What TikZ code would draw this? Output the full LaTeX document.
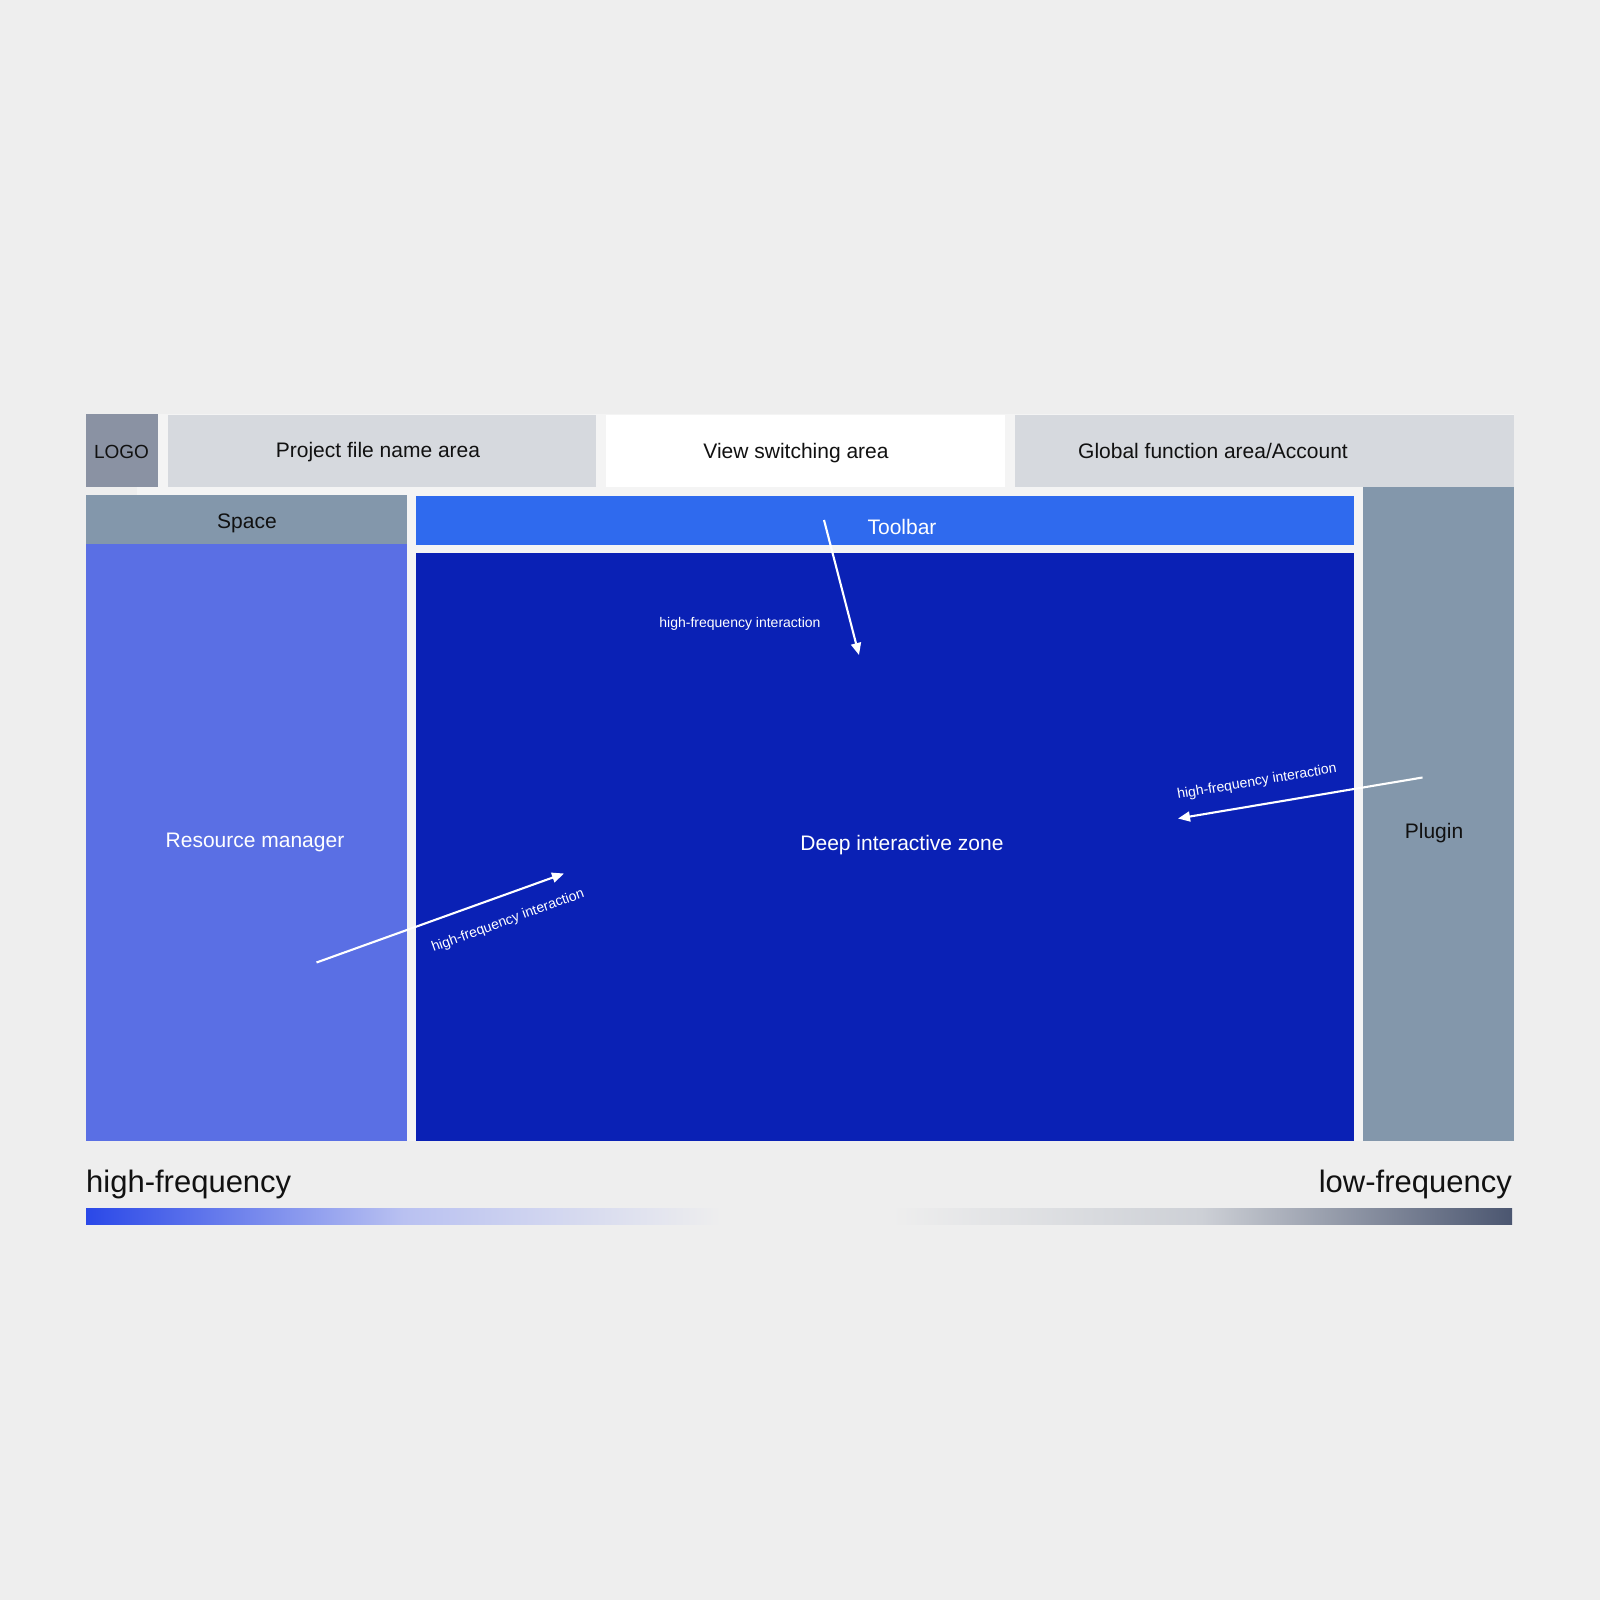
\documentclass[tikz,border=0pt]{standalone}
\usepackage{fontspec}
\setmainfont{Liberation Sans}
\usetikzlibrary{arrows.meta}
\definecolor{bg}{HTML}{EEEEEE}
\definecolor{panel}{HTML}{F4F4F4}
\definecolor{logoc}{HTML}{8A92A3}
\definecolor{lightbox}{HTML}{D6D9DE}
\definecolor{slate}{HTML}{8397AB}
\definecolor{resc}{HTML}{5A6FE4}
\definecolor{toolc}{HTML}{2F6AEE}
\definecolor{deepc}{HTML}{0A21B5}
\definecolor{ink}{HTML}{111111}
\definecolor{hiblue}{HTML}{2A48E8}
\definecolor{himid}{HTML}{B9C1F1}
\definecolor{lomid}{HTML}{CDD0D6}
\definecolor{lodark}{HTML}{4B5670}
\begin{document}
\begin{tikzpicture}[x=1pt,y=-1pt,
  box/.style={draw=none, inner sep=0pt, outer sep=0pt, anchor=north west},
  lbl/.style={font=\fontsize{21}{25}\selectfont, inner sep=0pt, anchor=base, text=ink},
  wlbl/.style={lbl, text=white},
  small/.style={font=\fontsize{14}{17}\selectfont, text=white, inner sep=0pt},
  big/.style={font=\fontsize{31}{36}\selectfont, text=ink, inner sep=0pt},
  flow/.style={draw=white, line width=2.1pt, -{Triangle[length=12pt,width=10pt]}}]
\fill[bg] (0,0) rectangle (1600,1600);
\useasboundingbox (0,0) rectangle (1600,1600);
\fill[panel] (137,414) rectangle (1514,1141);
% top row
\node[box, fill=logoc, minimum width=72pt, minimum height=73pt] (logo) at (86,414) {};
\node[box, fill=lightbox, minimum width=428pt, minimum height=72pt] (proj) at (168,415) {};
\node[box, fill=white, minimum width=399.5pt, minimum height=72pt] (view) at (605.5,415) {};
\node[box, fill=lightbox, minimum width=499.5pt, minimum height=72pt] (glob) at (1014.5,415) {};
% main area
\node[box, fill=slate, minimum width=321pt, minimum height=49pt] (space) at (86,495) {};
\node[box, fill=resc, minimum width=321pt, minimum height=597pt] (res) at (86,544) {};
\node[box, fill=toolc, minimum width=938pt, minimum height=49pt] (tool) at (416,496) {};
\node[box, fill=deepc, minimum width=938pt, minimum height=588pt] (deep) at (416,553) {};
\node[box, fill=slate, minimum width=151pt, minimum height=654pt] (plug) at (1363,487) {};
% texts
\node[lbl, font=\fontsize{19}{23}\selectfont] (tlogo) at (121.5,458) {LOGO};
\node[lbl] (tproj) at (378,457.5) {Project file name area};
\node[lbl] (tview) at (796,458.5) {View switching area};
\node[lbl] (tglob) at (1213,458.5) {Global function area/Account};
\node[lbl] (tspace) at (247,528.5) {Space};
\node[wlbl] (ttool) at (902,534) {Toolbar};
\node[wlbl] (tres) at (255,847.5) {Resource manager};
\node[wlbl] (tdeep) at (902,850.5) {Deep interactive zone};
\node[lbl] (tplug) at (1434,838.5) {Plugin};
% arrows
\coordinate (a1s) at (824,520);
\coordinate (a1e) at (859,655);
\coordinate (a2s) at (316.5,962.5);
\coordinate (a2e) at (564,873.5);
\coordinate (a3s) at (1422.5,777.5);
\coordinate (a3e) at (1178,818.5);
\draw[flow] (a1s) -- (a1e);
\draw[flow] (a2s) -- (a2e);
\draw[flow] (a3s) -- (a3e);
\node[small, anchor=base] (l1) at (740,627) {high-frequency interaction};
\node[small, rotate=20] (l2) at (508,921) {high-frequency interaction};
\node[small, rotate=9.5] (l3) at (1257,782) {high-frequency interaction};
% legend
\node[big, anchor=base west] (hf) at (86,1192) {high-frequency};
\node[big, anchor=base east] (lf) at (1512,1192) {low-frequency};
\shade[left color=hiblue, right color=bg, middle color=himid] (86,1208) rectangle (721,1224);
\shade[left color=bg, right color=lodark, middle color=lomid] (891,1208) rectangle (1512,1224);
\end{tikzpicture}
\end{document}
